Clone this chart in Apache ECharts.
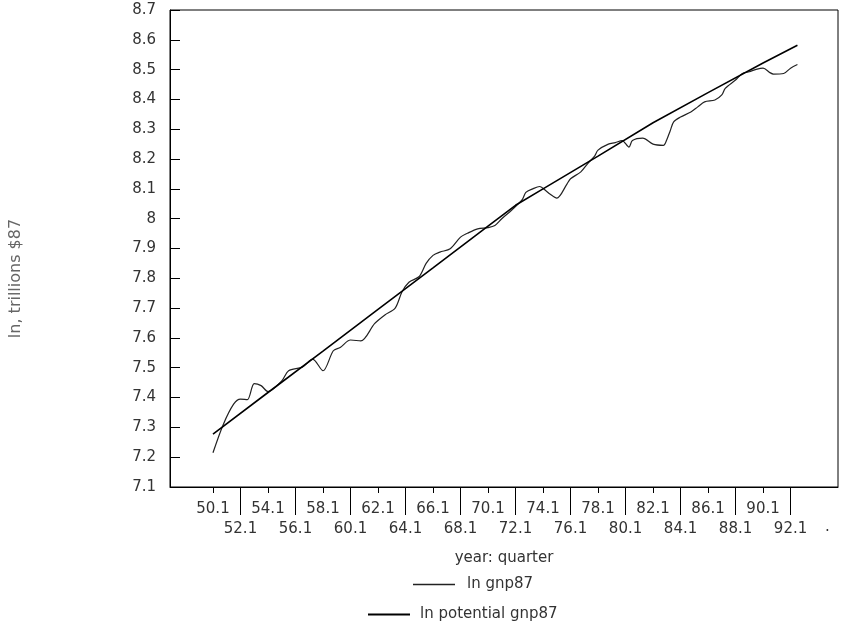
<!DOCTYPE html>
<html>
<head>
<meta charset="utf-8">
<script src="https://cdn.jsdelivr.net/npm/echarts@6/dist/echarts.min.js"></script>
<style>
html,body{margin:0;padding:0;background:#fff;}
#chart{width:844px;height:629px;}
</style>
</head>
<body>
<div id="chart"></div>
<script>
// ---- data ----
const gnpQuarters = ["50.1","50.4","51.3","52.1","52.3","53.1","53.3","54.1","55.1","55.3","56.3","57.2","58.1","58.4","59.2","60.1","60.4","61.4","62.3","63.2","63.4","64.2","65.1","65.3","66.1","66.3","67.2","68.1","68.3","69.2","70.1","70.3","71.1","71.4","72.3","72.4","73.2","73.4","74.2","74.3","75.1","75.4","76.1","76.4","77.2","77.4","78.1","78.4","79.2","79.4","80.2","80.3","81.2","82.1","82.4","83.1","83.2","83.3","84.1","84.4","85.2","85.4","86.3","87.1","87.2","88.1","88.3","89.1","89.3","90.1","90.3","90.4","91.3","92.1","92.3"];
const gnpValues = [7.215,7.31,7.378,7.395,7.393,7.447,7.44,7.42,7.456,7.49,7.502,7.529,7.49,7.557,7.568,7.593,7.59,7.648,7.677,7.70,7.755,7.787,7.806,7.85,7.877,7.888,7.899,7.938,7.951,7.966,7.97,7.977,8.0,8.03,8.065,8.088,8.1,8.108,8.092,8.083,8.069,8.117,8.134,8.157,8.185,8.21,8.23,8.25,8.255,8.262,8.24,8.262,8.27,8.25,8.246,8.265,8.295,8.325,8.341,8.358,8.375,8.392,8.398,8.415,8.437,8.465,8.487,8.493,8.501,8.505,8.49,8.485,8.487,8.505,8.517];

const potQuarters = ["50.1","54.1","58.1","62.1","66.1","70.1","72.1","74.1","78.1","82.1","86.1","90.1","92.3"];
const potValues = [7.277,7.417,7.556,7.696,7.835,7.975,8.045,8.10,8.21,8.322,8.423,8.522,8.582];

const xTicksRow1 = ["50.1","54.1","58.1","62.1","66.1","70.1","74.1","78.1","82.1","86.1","90.1"];
const xTicksRow2 = ["52.1","56.1","60.1","64.1","68.1","72.1","76.1","80.1","84.1","88.1","92.1"];

const seriesNames = ["ln gnp87", "ln potential gnp87"];
const xTitle = "year: quarter";
const yTitle = "ln, trillions $87";

// ---- helpers: "yy.q" <-> quarter index from 1950q1 ----
function q2t(s){ const p = s.split("."); return (parseInt(p[0],10)-50)*4 + (parseInt(p[1],10)-1); }
function t2q(t){ t = Math.round(t); return (50 + Math.floor(t/4)) + "." + ((t%4+4)%4+1); }

const gnpData = gnpQuarters.map((q,i)=>[q2t(q), gnpValues[i]]);
const potData = potQuarters.map((q,i)=>[q2t(q), potValues[i]]);

const FONT = "DejaVu Sans";
const TXT = "#333";
const xMin = -12.5, xMax = 181.8;

const chart = echarts.init(document.getElementById("chart"), null, {renderer:"canvas"});
chart.setOption({
  animation:false,
  backgroundColor:"#fff",
  grid:{left:169,right:6,top:10,bottom:142,show:true,borderColor:"#000",borderWidth:1,backgroundColor:"transparent"},
  xAxis:[{
    type:"value", position:"bottom", min:xMin, max:xMax,
    axisLine:{show:true,onZero:false,lineStyle:{color:"#000",width:1}},
    axisTick:{show:true,inside:false,length:6,customValues:xTicksRow1.map(q2t),lineStyle:{color:"#000"}},
    axisLabel:{show:true,customValues:xTicksRow1.map(q2t),formatter:v=>t2q(v),margin:15,fontSize:15,fontFamily:FONT,color:TXT},
    splitLine:{show:false},
    name:xTitle, nameLocation:"middle", nameGap:64,
    nameTextStyle:{fontSize:15,fontFamily:FONT,color:TXT}
  },{
    type:"value", position:"bottom", min:xMin, max:xMax,
    axisLine:{show:false,onZero:false},
    axisTick:{show:true,inside:false,length:28,customValues:xTicksRow2.map(q2t),lineStyle:{color:"#000"}},
    axisLabel:{show:true,customValues:xTicksRow2.map(q2t),formatter:v=>t2q(v),margin:35,fontSize:15,fontFamily:FONT,color:TXT},
    splitLine:{show:false}
  }],
  yAxis:{
    type:"value", min:7.1, max:8.7, interval:0.1,
    axisLine:{show:true,onZero:false,lineStyle:{color:"#000",width:1}},
    axisTick:{show:true,inside:true,length:10,lineStyle:{color:"#000"}},
    axisLabel:{margin:14,fontSize:15,fontFamily:FONT,color:TXT},
    splitLine:{show:false},
    name:yTitle, nameLocation:"middle", nameGap:146,
    nameTextStyle:{fontSize:16,fontFamily:FONT,color:"#666",padding:[0,60,0,0]}
  },
  legend:[{
    data:[seriesNames[0]], left:408, top:572, orient:"vertical",
    icon:"rect", itemWidth:42, itemHeight:1.5,
    textStyle:{fontSize:15,fontFamily:FONT,color:TXT,padding:[0,0,0,7]}
  },{
    data:[seriesNames[1]], left:363, top:602, orient:"vertical",
    icon:"rect", itemWidth:42, itemHeight:2,
    textStyle:{fontSize:15,fontFamily:FONT,color:TXT,padding:[0,0,0,5]}
  }],
  graphic:[{
    type:"text", left:825, top:520,
    style:{text:".",fontSize:15,fontFamily:FONT,fill:TXT}
  }],
  series:[{
    name:seriesNames[0], type:"line", xAxisIndex:0, data:gnpData,
    symbol:"none", smooth:0.3,
    lineStyle:{color:"#222",width:1.2}, itemStyle:{color:"#222"}
  },{
    name:seriesNames[1], type:"line", xAxisIndex:0, data:potData,
    symbol:"none", smooth:false,
    lineStyle:{color:"#000",width:1.6}, itemStyle:{color:"#000"}
  }]
});
</script>
</body>
</html>
